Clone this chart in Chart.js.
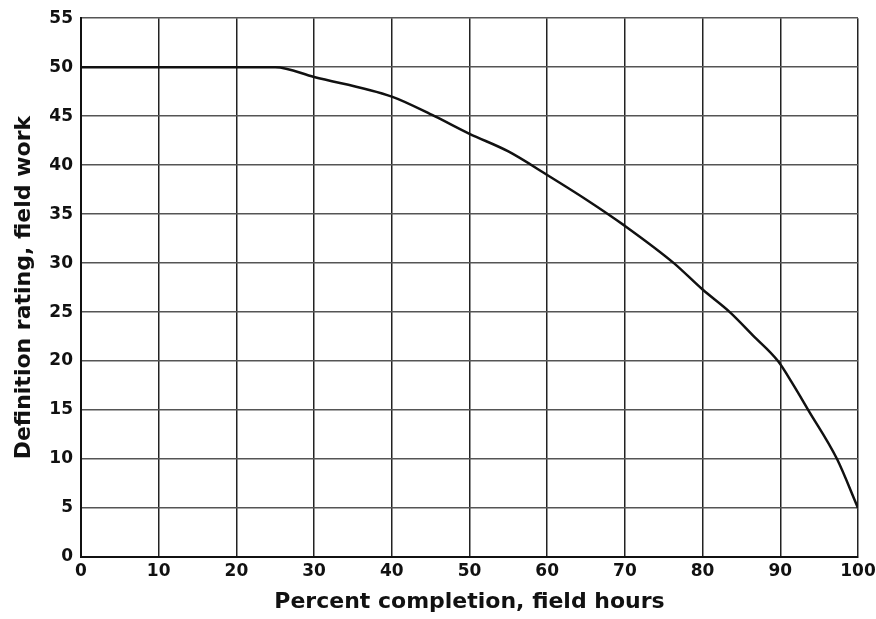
<!DOCTYPE html>
<html>
<head>
<meta charset="utf-8">
<script src="https://cdn.jsdelivr.net/npm/chart.js@4/dist/chart.umd.min.js"></script>
<style>
  html, body { margin: 0; padding: 0; background: #fff; }
  #wrap { width: 876px; height: 619px; }
</style>
</head>
<body>
<div id="wrap"><canvas id="lineChart" width="876" height="619"></canvas></div>
<script>
// values
var completion = [0, 10, 20, 25, 30, 40, 45.5, 50, 55, 60, 65, 70, 76.3, 80, 83.5, 86.5, 89.7, 91.5, 93.6, 97.3, 100];
var rating     = [50, 50, 50, 50, 49, 47, 45, 43.2, 41.4, 39, 36.5, 33.8, 30, 27.3, 25, 22.6, 20, 17.8, 15, 10, 5];
var xTicks = [0, 10, 20, 30, 40, 50, 60, 70, 80, 90, 100];
var yTicks = [0, 5, 10, 15, 20, 25, 30, 35, 40, 45, 50, 55];

var points = completion.map(function (x, i) { return { x: x, y: rating[i] }; });
var tickFont  = { family: 'DejaVu Sans', size: 17, weight: 'bold' };
var titleFont = { family: 'DejaVu Sans', size: 22, weight: 'bold' };

var ctx = document.getElementById('lineChart').getContext('2d');
new Chart(ctx, {
  type: 'line',
  data: {
    datasets: [{
      data: points,
      borderColor: '#111',
      borderWidth: 2.5,
      pointRadius: 0,
      cubicInterpolationMode: 'monotone',
      fill: false
    }]
  },
  options: {
    responsive: false,
    animation: false,
    devicePixelRatio: 1,
    layout: { padding: { top: 17, right: 18, left: 0, bottom: 0 } },
    plugins: { legend: { display: false }, tooltip: { enabled: false } },
    scales: {
      x: {
        type: 'linear',
        min: xTicks[0],
        max: xTicks[xTicks.length - 1],
        afterBuildTicks: function (s) { s.ticks = xTicks.map(function (v) { return { value: v }; }); },
        afterFit: function (s) { s.height = 62; s.paddingRight = 0; s.paddingLeft = 0; },
        ticks: { color: '#111', font: tickFont, padding: 4, maxRotation: 0, autoSkip: false },
        grid: { color: '#222', lineWidth: 1.5, drawTicks: false },
        border: { color: '#111', width: 2 },
        title: { display: true, text: 'Percent completion, field hours', color: '#111', font: titleFont, padding: { top: 0, bottom: 4 } }
      },
      y: {
        min: yTicks[0],
        max: yTicks[yTicks.length - 1],
        afterBuildTicks: function (s) { s.ticks = yTicks.map(function (v) { return { value: v }; }); },
        afterFit: function (s) { s.width = 81; },
        ticks: { color: '#111', font: tickFont, padding: 8, autoSkip: false },
        grid: { color: '#555', lineWidth: 1.5, drawTicks: false },
        border: { color: '#111', width: 2 },
        title: { display: true, text: 'Definition rating, field work', color: '#111', font: titleFont, padding: { top: 11, bottom: 0 } }
      }
    }
  }
});
</script>
</body>
</html>
